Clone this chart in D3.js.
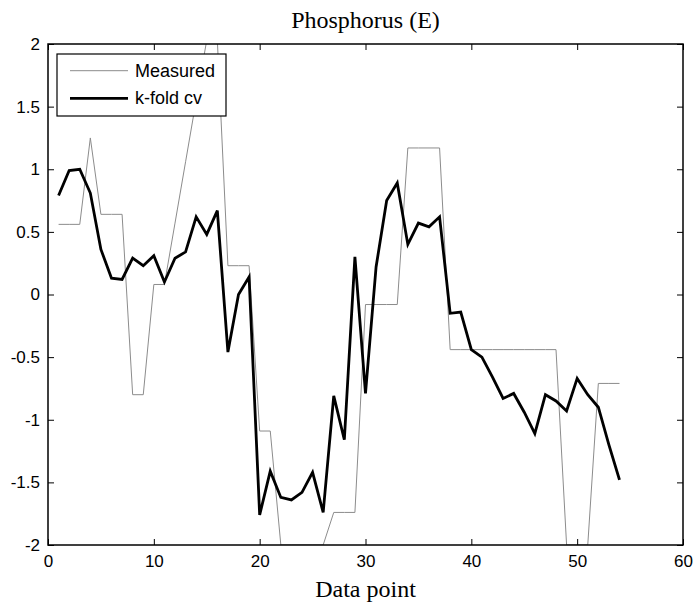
<!DOCTYPE html>
<html lang="en">
<head>
	<meta charset="UTF-8">
	<title>Phosphorus (E)</title>
	<script src="https://cdn.jsdelivr.net/npm/d3@7/dist/d3.min.js"></script>
	<style>
		body {
			margin: 0;
			background: #fff;
		}
		svg {
			display: block;
		}
	</style>
</head>
<body>
	<svg width="693" height="605"></svg>
	<script>
		// 数据点序号
		var dataPoint = d3.range(1, 55);

		// 实测值
		var measured = [
			0.56, 0.56, 0.56, 1.25, 0.64, 0.64, 0.64, -0.80, -0.80, 0.08,
			0.08, 0.57, 1.06, 1.55, 2.03, 2.03, 0.23, 0.23, 0.23, -1.09,
			-1.09, -2.00, -2.00, -2.00, -2.00, -2.00, -1.74, -1.74, -1.74, -0.08,
			-0.08, -0.08, -0.08, 1.17, 1.17, 1.17, 1.17, -0.44, -0.44, -0.44,
			-0.44, -0.44, -0.44, -0.44, -0.44, -0.44, -0.44, -0.44, -2.00, -2.00,
			-2.00, -0.71, -0.71, -0.71
		];

		// k-fold cv 预测值
		var kfold = [
			0.79, 0.99, 1.00, 0.81, 0.36, 0.13, 0.12, 0.29, 0.23, 0.31,
			0.10, 0.29, 0.34, 0.62, 0.48, 0.67, -0.46, 0.00, 0.14, -1.76,
			-1.41, -1.62, -1.64, -1.58, -1.42, -1.74, -0.81, -1.16, 0.30, -0.79,
			0.22, 0.75, 0.89, 0.40, 0.57, 0.54, 0.62, -0.15, -0.14, -0.44,
			-0.50, -0.66, -0.83, -0.79, -0.94, -1.11, -0.80, -0.85, -0.93, -0.67,
			-0.80, -0.90, -1.20, -1.48
		];

		var xTicks = [0, 10, 20, 30, 40, 50, 60];
		var yTicks = [-2, -1.5, -1, -0.5, 0, 0.5, 1, 1.5, 2];

		var svg = d3.select("svg");
		var margin = {top: 44, right: 10, bottom: 60, left: 48};
		var width = 683 - margin.left;
		var height = 545 - margin.top;

		var g = svg.append("g")
			.attr("transform", "translate(" + margin.left + "," + margin.top + ")");

		var x = d3.scaleLinear().domain([0, 60]).range([0, width]);
		var y = d3.scaleLinear().domain([-2, 2]).range([height, 0]);

		// 裁剪区域
		g.append("clipPath").attr("id", "clip")
			.append("rect")
			.attr("width", width)
			.attr("height", height);

		var line = d3.line()
			.x(function(d, i) { return x(dataPoint[i]); })
			.y(function(d) { return y(d); });

		var plot = g.append("g").attr("clip-path", "url(#clip)");

		plot.append("path")
			.datum(measured)
			.attr("fill", "none")
			.attr("stroke", "#8c8c8c")
			.attr("stroke-width", 1)
			.attr("d", line);

		plot.append("path")
			.datum(kfold)
			.attr("fill", "none")
			.attr("stroke", "#000")
			.attr("stroke-width", 2.8)
			.attr("d", line);

		// 坐标轴（刻度朝内，四边都有）
		var tickLen = 6;
		var fontTick = "Liberation Sans, Arial, sans-serif";
		var fmt = function(d) { return String(d); };

		g.append("g")
			.attr("transform", "translate(0," + height + ")")
			.call(d3.axisBottom(x).tickValues(xTicks).tickSizeInner(-tickLen).tickSizeOuter(0).tickPadding(10).tickFormat(fmt));
		g.append("g")
			.call(d3.axisTop(x).tickValues(xTicks).tickSizeInner(-tickLen).tickSizeOuter(0).tickFormat(""));
		g.append("g")
			.call(d3.axisLeft(y).tickValues(yTicks).tickSizeInner(-tickLen).tickSizeOuter(0).tickPadding(8).tickFormat(fmt));
		g.append("g")
			.attr("transform", "translate(" + width + ",0)")
			.call(d3.axisRight(y).tickValues(yTicks).tickSizeInner(-tickLen).tickSizeOuter(0).tickFormat(""));

		g.selectAll(".domain").remove();
		g.selectAll(".tick line").attr("stroke", "#000");
		g.selectAll(".tick text")
			.attr("fill", "#000")
			.style("font-family", fontTick)
			.style("font-size", "17px");

		// 边框
		g.append("rect")
			.attr("width", width)
			.attr("height", height)
			.attr("fill", "none")
			.attr("stroke", "#000")
			.attr("stroke-width", 1.5);

		// 标题和轴标签
		svg.append("text")
			.attr("x", margin.left + width / 2)
			.attr("y", 28)
			.attr("text-anchor", "middle")
			.style("font-family", "Liberation Serif, Times New Roman, serif")
			.style("font-size", "24px")
			.text("Phosphorus (E)");

		svg.append("text")
			.attr("x", margin.left + width / 2)
			.attr("y", 597)
			.attr("text-anchor", "middle")
			.style("font-family", "Liberation Serif, Times New Roman, serif")
			.style("font-size", "24px")
			.text("Data point");

		// 图例
		var legend = g.append("g").attr("transform", "translate(9,10)");
		legend.append("rect")
			.attr("width", 169)
			.attr("height", 62)
			.attr("fill", "#fff")
			.attr("stroke", "#000")
			.attr("stroke-width", 1.2);

		var items = [
			{name: "Measured", color: "#8c8c8c", w: 1},
			{name: "k-fold cv", color: "#000", w: 2.8}
		];
		items.forEach(function(d, i) {
			var yy = 16.7 + i * 27.6;
			legend.append("line")
				.attr("x1", 13).attr("x2", 71)
				.attr("y1", yy).attr("y2", yy)
				.attr("stroke", d.color)
				.attr("stroke-width", d.w);
			legend.append("text")
				.attr("x", 78)
				.attr("y", yy + 6)
				.style("font-family", fontTick)
				.style("font-size", "18px")
				.text(d.name);
		});
	</script>
</body>
</html>
